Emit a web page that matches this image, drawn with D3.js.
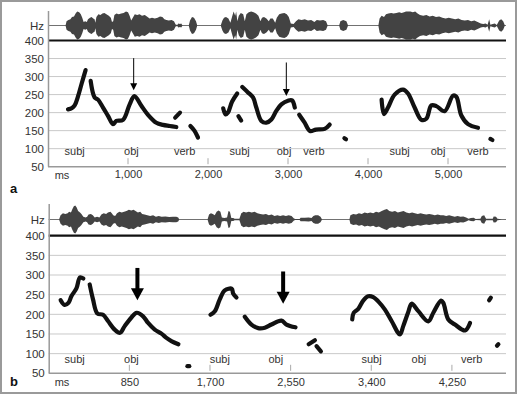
<!DOCTYPE html>
<html lang="en">
<head>
<meta charset="UTF-8">
<title>Pitch contours</title>
<script src="https://cdn.jsdelivr.net/npm/d3@7"></script>
<style>
  html, body { margin: 0; padding: 0; background: #fff; }
  svg { display: block; font-family: "Liberation Sans", Arial, Helvetica, sans-serif; }
  .tick text { fill: #333; }
</style>
</head>
<body>
<div id="chart"></div>
<script>
// ---- data (ms, Hz) ----
var hzTicks = [50, 100, 150, 200, 250, 300, 350, 400];
var msTicksA = [1000, 2000, 3000, 4000, 5000];
var msTicksB = [850, 1700, 2550, 3400, 4250];

// panel a pitch tracks
var pitchA = [
  [[250,209],[300,213],[335,221],[375,245],[420,280],[470,318]],
  [[533,288],[583,242],[625,236],[688,214],[750,191],[813,168],[854,177],[938,180],[1021,223],[1080,246],[1167,219],[1250,194],[1354,172],[1437,166],[1521,163],[1604,160]],
  [[1590,186],[1650,200]],
  [[1780,163],[1830,150],[1875,131]],
  [[2190,212],[2220,195],[2250,200],[2300,230],[2365,253]],
  [[2380,190],[2415,178]],
  [[2429,271],[2500,256],[2563,242],[2604,214],[2667,177],[2729,172],[2792,181],[2854,205],[2917,223],[3000,233],[3050,234],[3085,214]],
  [[3140,194],[3208,172],[3275,149],[3350,153],[3458,155],[3521,167]],
  [[3705,129],[3725,126]],
  [[4170,236],[4200,196],[4250,214],[4333,250],[4438,264],[4500,253],[4583,214],[4667,180],[4729,183],[4792,220],[4854,218],[4958,204],[5063,247],[5104,244],[5167,192],[5250,168],[5375,158]],
  [[5530,127],[5555,124]]
];

// panel b pitch tracks
var pitchB = [
  [[126,236],[168,224],[210,230],[239,246],[292,266],[330,294],[365,291]],
  [[432,276],[467,238],[513,202],[573,199],[625,183],[696,161],[752,153],[801,170],[872,192],[928,204],[995,195],[1048,178],[1118,161],[1188,151],[1241,140],[1293,132],[1367,124]],
  [[1462,68],[1482,68]],
  [[1705,199],[1751,208],[1803,238],[1856,261],[1930,265],[1944,253],[1979,243]],
  [[2067,194],[2137,174],[2208,165],[2278,166],[2348,174],[2453,184],[2506,174],[2601,167]],
  [[2740,124],[2806,134]],
  [[2823,119],[2869,106]],
  [[3199,187],[3215,204],[3263,214],[3315,235],[3368,246],[3421,244],[3473,233],[3544,212],[3614,183],[3702,149],[3737,170],[3790,206],[3825,227],[3896,208],[4001,182],[4054,204],[4135,235],[4159,229],[4212,187],[4282,174],[4388,159],[4441,178]],
  [[4642,236],[4660,242]],
  [[4725,120],[4740,124]]
];

// speech waveform envelope (ms, relative amplitude)
var waveA = [
  [0,0.02],[220,0.02],[232,0.3],[255,0.4],[280,0.45],[300,0.6],[325,0.65],[345,0.85],[365,1.0],[390,0.95],[410,0.8],[428,0.55],[445,0.25],[465,0.3],[485,0.25],[500,0.45],[525,0.55],[545,0.6],[565,0.5],[582,0.45],[592,0.2],[605,0.6],[630,0.8],[655,0.75],[680,0.85],[705,0.9],[730,0.8],[760,0.7],[785,0.55],[800,0.25],[815,0.3],[830,0.75],[855,0.85],[885,0.8],[915,0.85],[945,0.9],[975,1.0],[1000,0.95],[1020,0.7],[1040,0.35],[1060,0.55],[1085,0.8],[1115,0.75],[1145,0.8],[1175,0.7],[1210,0.75],[1245,0.6],[1270,0.5],[1300,0.55],[1335,0.5],[1370,0.55],[1400,0.65],[1430,0.6],[1455,0.45],[1480,0.4],[1510,0.35],[1545,0.4],[1575,0.3],[1595,0.08],[1615,0.03],[1630,0.15],[1650,0.1],[1665,0.15],[1680,0.02],[1760,0.02],[1775,0.35],[1800,0.6],[1825,0.55],[1850,0.3],[1865,0.02],
  [2160,0.02],[2180,0.35],[2200,0.55],[2225,0.6],[2255,0.5],[2280,0.2],[2300,0.6],[2320,1.0],[2340,0.7],[2352,1.0],[2367,0.3],[2385,0.7],[2410,0.9],[2440,0.8],[2460,0.3],[2480,0.8],[2510,0.95],[2540,1.0],[2570,0.95],[2600,0.85],[2630,0.7],[2655,0.3],[2675,0.55],[2700,0.6],[2730,0.5],[2760,0.3],[2780,0.5],[2810,0.5],[2840,0.2],[2860,0.55],[2890,0.8],[2920,0.85],[2955,0.9],[2985,0.8],[3010,0.6],[3035,0.15],[3070,0.1],[3100,0.3],[3130,0.45],[3170,0.4],[3210,0.45],[3250,0.35],[3290,0.4],[3330,0.25],[3360,0.4],[3400,0.35],[3440,0.4],[3475,0.3],[3495,0.02],[3640,0.02],[3655,0.3],[3690,0.4],[3730,0.3],[3750,0.02],
  [4130,0.02],[4145,0.5],[4170,0.7],[4200,0.6],[4225,0.8],[4255,0.85],[4290,0.9],[4320,0.85],[4355,0.9],[4390,0.95],[4420,0.9],[4450,0.95],[4475,1.0],[4500,1.0],[4530,1.0],[4560,0.95],[4590,1.0],[4620,0.85],[4650,0.75],[4690,0.7],[4730,0.75],[4770,0.65],[4810,0.7],[4850,0.6],[4890,0.65],[4930,0.55],[4970,0.5],[5010,0.55],[5050,0.5],[5090,0.45],[5130,0.5],[5170,0.4],[5210,0.35],[5250,0.4],[5290,0.3],[5330,0.35],[5370,0.25],[5410,0.15],[5440,0.1],[5470,0.15],[5495,0.05],[5515,0.45],[5530,0.05],[5560,0.1],[5585,0.15],[5610,0.03],[5640,0.35],[5665,0.45],[5690,0.3],[5710,0.02],[5725,0.02]
];

var waveB = [
  [0,0.02],[110,0.02],[125,0.3],[150,0.45],[175,0.4],[200,0.45],[215,0.55],[235,0.5],[250,0.75],[265,0.95],[280,1.0],[295,0.85],[310,0.6],[330,0.5],[345,0.4],[365,0.2],[390,0.15],[405,0.2],[420,0.35],[445,0.4],[465,0.3],[485,0.15],[510,0.2],[535,0.15],[555,0.35],[580,0.45],[605,0.4],[625,0.5],[650,0.55],[665,0.45],[680,0.3],[700,0.25],[720,0.45],[745,0.55],[770,0.5],[795,0.55],[820,0.6],[845,0.7],[870,0.65],[895,0.7],[915,0.6],[940,0.5],[965,0.55],[985,0.4],[1010,0.35],[1040,0.3],[1070,0.25],[1100,0.3],[1130,0.2],[1160,0.25],[1190,0.2],[1230,0.22],[1270,0.18],[1310,0.2],[1345,0.2],[1365,0.15],[1375,0.02],
  [1675,0.02],[1690,0.35],[1710,0.45],[1730,0.4],[1750,0.3],[1770,0.55],[1790,0.65],[1810,0.55],[1825,0.15],[1850,0.1],[1880,0.15],[1895,0.6],[1910,0.55],[1925,0.1],[1945,0.1],[1960,0.05],[2010,0.05],[2030,0.45],[2055,0.55],[2080,0.5],[2110,0.55],[2140,0.5],[2170,0.55],[2200,0.45],[2230,0.4],[2260,0.35],[2290,0.4],[2320,0.3],[2350,0.35],[2380,0.25],[2410,0.3],[2440,0.25],[2470,0.3],[2500,0.25],[2530,0.3],[2560,0.25],[2585,0.08],[2600,0.03],[2645,0.03],[2655,0.12],[2700,0.12],[2740,0.15],[2770,0.1],[2790,0.25],[2810,0.3],[2840,0.3],[2865,0.2],[2880,0.02],
  [3170,0.02],[3180,0.3],[3210,0.4],[3240,0.35],[3270,0.45],[3300,0.4],[3330,0.5],[3360,0.45],[3390,0.5],[3420,0.45],[3450,0.55],[3480,0.5],[3510,0.6],[3540,0.7],[3565,0.75],[3590,0.6],[3620,0.55],[3650,0.6],[3680,0.5],[3710,0.55],[3740,0.6],[3770,0.5],[3800,0.45],[3830,0.5],[3860,0.45],[3890,0.4],[3920,0.45],[3950,0.4],[3980,0.35],[4010,0.4],[4040,0.35],[4070,0.3],[4100,0.35],[4130,0.3],[4160,0.3],[4190,0.25],[4220,0.3],[4250,0.25],[4280,0.2],[4310,0.25],[4340,0.2],[4370,0.22],[4400,0.15],[4425,0.05],[4450,0.1],[4480,0.12],[4500,0.03],[4550,0.05],[4565,0.25],[4590,0.3],[4610,0.05],[4680,0.05],[4690,0.22],[4715,0.2],[4730,0.05],[4775,0.02],[4820,0.02]
];

// word labels (ms position)
var wordsA = [["subj",333],["obj",1042],["verb",1708],["subj",2396],["obj",2950],["verb",3325],["subj",4396],["obj",4875],["verb",5375]];
var wordsB = [["subj",274],["obj",872],["subj",1803],["obj",2394],["subj",3403],["obj",3902],["verb",4458]];

// arrows: ms, Hz at tail, Hz at tip
var arrowsA = [[1071, 351, 262], [2979, 339, 246]];
var arrowsB = [[935, 318, 236], [2471, 309, 227]];

var W = 517, H = 395;
var svg = d3.select("#chart").append("svg").attr("width", W).attr("height", H);

svg.append("rect").attr("x", 1).attr("y", 1).attr("width", W - 2).attr("height", H - 3)
  .attr("fill", "none").attr("stroke", "#9a9a9a").attr("stroke-width", 2);

function panel(o) {
  var x = d3.scaleLinear().domain([0, o.maxMs]).range([o.left, 506]);
  var y = d3.scaleLinear().domain([50, 400]).range([o.bottom, o.top]);
  var amp = d3.scaleLinear().domain([0, 1]).range([0, 14]);
  var g = svg.append("g");

  // waveform
  g.append("line").attr("x1", o.left).attr("x2", 506).attr("y1", o.waveY).attr("y2", o.waveY)
    .attr("stroke", "#888").attr("stroke-width", 0.8);
  g.append("path").datum(o.wave)
    .attr("d", d3.area().x(d => x(d[0])).y0(d => o.waveY + amp(d[1])).y1(d => o.waveY - amp(d[1])))
    .attr("fill", "#434343");

  // grid
  g.selectAll(".grid").data(hzTicks.filter(d => d > 50 && d < 400)).enter().append("line")
    .attr("x1", o.left).attr("x2", 506).attr("y1", d => y(d)).attr("y2", d => y(d))
    .attr("stroke", "#c9c9c9").attr("stroke-width", 1);
  g.append("line").attr("x1", o.left).attr("x2", 506).attr("y1", y(400)).attr("y2", y(400))
    .attr("stroke", "#111").attr("stroke-width", 2.2);

  // y axis
  g.append("line").attr("x1", o.left + 0.5).attr("x2", o.left + 0.5).attr("y1", o.axisTop).attr("y2", y(50))
    .attr("stroke", "#999").attr("stroke-width", 1.5);
  var ya = g.append("g").attr("transform", `translate(${o.left},0)`)
    .call(d3.axisLeft(y).tickValues(hzTicks).tickSize(0).tickPadding(4));
  ya.select(".domain").remove();
  ya.selectAll("text").attr("font-size", 11.5).attr("font-family", "inherit");
  g.append("text").attr("x", o.left - 4).attr("y", o.waveY).attr("dy", "0.35em")
    .attr("text-anchor", "end").attr("font-size", 11.5).attr("fill", "#333").text("Hz");

  // x axis
  g.append("line").attr("x1", o.left).attr("x2", 506).attr("y1", y(50)).attr("y2", y(50))
    .attr("stroke", "#999").attr("stroke-width", 1.5);
  g.selectAll(".mt").data(o.msTicks).enter().append("line")
    .attr("x1", d => x(d)).attr("x2", d => x(d)).attr("y1", y(50) - 8.5).attr("y2", y(50) - 2.5)
    .attr("stroke", "#aaa").attr("stroke-width", 1);
  var xa = g.append("g").attr("transform", `translate(0,${y(50)})`)
    .call(d3.axisBottom(x).tickValues(o.msTicks).tickFormat(d3.format(",")).tickSize(0).tickPadding(o.labPad));
  xa.select(".domain").remove();
  xa.selectAll("text").attr("font-size", 11).attr("font-family", "inherit");
  g.append("text").attr("x", 62).attr("y", y(50) + o.labPad).attr("dy", "0.71em")
    .attr("text-anchor", "middle").attr("font-size", 11).attr("fill", "#333").text("ms");

  // words
  g.selectAll(".w").data(o.words).enter().append("text")
    .attr("x", d => x(d[1])).attr("y", o.wordY).attr("dy", "0.35em")
    .attr("text-anchor", "middle").attr("font-size", 11).attr("fill", "#333").text(d => d[0]);

  // pitch tracks
  var line = d3.line().x(d => x(d[0])).y(d => y(d[1])).curve(d3.curveCatmullRom.alpha(0.5));
  g.selectAll(".p").data(o.pitch).enter().append("path")
    .attr("d", line).attr("fill", "none").attr("stroke", "#111")
    .attr("stroke-width", 4.2).attr("stroke-linecap", "round").attr("stroke-linejoin", "round");

  // arrows
  o.arrows.forEach(function (a) {
    var ax = x(a[0]), y0 = y(a[1]), y1 = y(a[2]);
    g.append("line").attr("x1", ax).attr("x2", ax).attr("y1", y0).attr("y2", y1 - o.headH + 1)
      .attr("stroke", "#000").attr("stroke-width", o.shaft);
    g.append("path")
      .attr("d", `M${ax - o.headW / 2},${y1 - o.headH}L${ax + o.headW / 2},${y1 - o.headH}L${ax},${y1}Z`)
      .attr("fill", "#000");
  });

  svg.append("text").attr("x", 10).attr("y", o.letterY).attr("font-size", 13).attr("font-weight", "bold")
    .attr("fill", "#111").text(o.letter);
}

panel({ maxMs: 5725, left: 48, top: 40.5, bottom: 166.7, axisTop: 11, waveY: 25.5, wave: waveA,
  msTicks: msTicksA, words: wordsA, wordY: 151.3, pitch: pitchA, arrows: arrowsA, labPad: 4,
  shaft: 1, headW: 7, headH: 7, letter: "a", letterY: 193 });

panel({ maxMs: 4820, left: 48.7, top: 235.7, bottom: 373.3, axisTop: 204, waveY: 219.5, wave: waveB,
  msTicks: msTicksB, words: wordsB, wordY: 359.3, pitch: pitchB, arrows: arrowsB, labPad: 5,
  shaft: 4, headW: 13, headH: 12, letter: "b", letterY: 386 });
</script>
</body>
</html>
